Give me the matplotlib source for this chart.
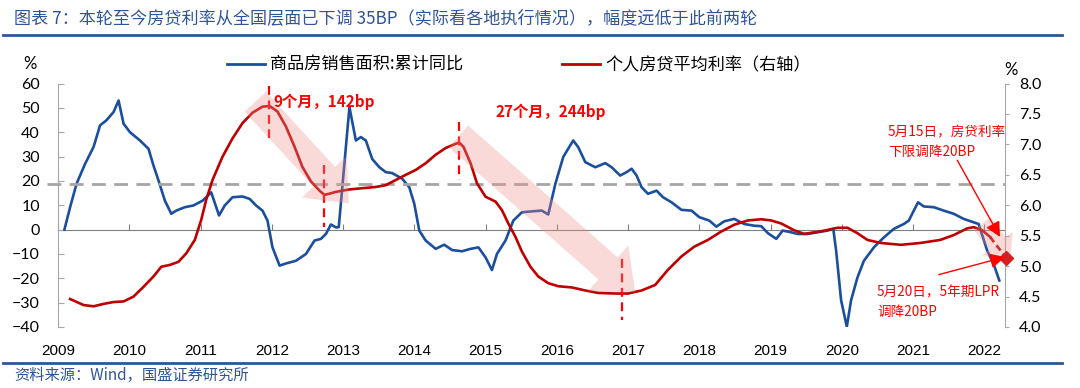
import matplotlib
matplotlib.use("Agg")
import matplotlib.pyplot as plt
from matplotlib.lines import Line2D
from matplotlib.patches import FancyArrowPatch

plt.rcParams['font.family'] = ['Noto Sans CJK SC', 'DejaVu Sans']

# ---------------- data ----------------
sales_x = [2009.09, 2009.17, 2009.26, 2009.38, 2009.50, 2009.59, 2009.68, 2009.78, 2009.85, 2009.92,
           2010.01, 2010.15, 2010.27, 2010.34, 2010.41, 2010.50, 2010.59, 2010.66, 2010.78, 2010.90,
           2011.03, 2011.15, 2011.26, 2011.34, 2011.45, 2011.59, 2011.69, 2011.78, 2011.87, 2011.94,
           2012.01, 2012.11, 2012.20, 2012.34, 2012.48, 2012.60, 2012.69, 2012.76, 2012.83, 2012.90,
           2012.94, 2013.09, 2013.18, 2013.25, 2013.32, 2013.41, 2013.51, 2013.60, 2013.69, 2013.83,
           2013.93, 2014.00, 2014.07, 2014.16, 2014.30, 2014.42, 2014.53, 2014.67, 2014.79, 2014.90,
           2015.00, 2015.09, 2015.16, 2015.28, 2015.39, 2015.51, 2015.65, 2015.79, 2015.88, 2015.98,
           2016.09, 2016.23, 2016.30, 2016.40, 2016.54, 2016.68, 2016.77, 2016.89, 2016.98, 2017.05,
           2017.12, 2017.19, 2017.28, 2017.40, 2017.49, 2017.61, 2017.75, 2017.89, 2018.00, 2018.14,
           2018.24, 2018.35, 2018.49, 2018.63, 2018.77, 2018.87, 2018.96, 2019.08, 2019.17, 2019.29,
           2019.38, 2019.52, 2019.66, 2019.80, 2019.88, 2019.92, 2019.99, 2020.07, 2020.13, 2020.22,
           2020.31, 2020.45, 2020.59, 2020.73, 2020.87, 2020.94, 2021.01, 2021.07, 2021.15, 2021.29,
           2021.43, 2021.57, 2021.71, 2021.85, 2021.92, 2022.04, 2022.13, 2022.21]
sales_yoy = [0.0, 9.2, 18.8, 27.0, 34.0, 42.8, 44.9, 48.3, 53.0, 43.5,
             40.0, 36.6, 33.2, 26.3, 20.2, 11.9, 6.5, 7.8, 9.2, 9.9,
             11.9, 15.3, 5.8, 9.9, 13.3, 13.6, 12.6, 9.9, 7.8, 3.7,
             -7.3, -14.8, -13.9, -12.8, -10.0, -4.5, -3.8, -1.8, 2.1, 0.9,
             1.0, 50.3, 36.6, 38.0, 36.6, 29.0, 25.6, 23.6, 23.2, 20.9,
             17.4, 10.6, -0.4, -4.5, -7.9, -6.2, -8.4, -8.9, -7.9, -7.3,
             -11.4, -16.6, -10.0, -4.5, 3.7, 7.1, 7.5, 7.8, 6.2, 18.8,
             29.8, 36.6, 33.9, 27.7, 25.6, 27.3, 25.6, 22.2, 23.6, 25.0,
             22.2, 17.4, 14.7, 16.0, 13.3, 11.2, 8.1, 7.8, 5.1, 3.7,
             1.2, 3.4, 4.4, 2.3, 1.6, 1.4, -1.4, -3.8, -0.4, -1.1,
             -1.8, -1.8, -1.1, -0.4, 0.3, -8.6, -29.0, -39.9, -29.0, -19.6,
             -12.8, -7.3, -3.2, 0.3, 2.3, 3.7, 7.8, 11.2, 9.5, 9.2,
             7.8, 6.5, 4.4, 3.0, 2.3, -8.6, -14.1, -20.9]

rate_x = [2009.17, 2009.36, 2009.50, 2009.64, 2009.78, 2009.92, 2010.06, 2010.20, 2010.34, 2010.45,
          2010.57, 2010.69, 2010.80, 2010.92, 2011.01, 2011.08, 2011.17, 2011.31, 2011.45, 2011.59,
          2011.73, 2011.87, 2011.97, 2012.08, 2012.20, 2012.32, 2012.43, 2012.55, 2012.67, 2012.74,
          2012.81, 2012.90, 2013.09, 2013.27, 2013.46, 2013.60, 2013.83, 2014.02, 2014.16, 2014.30,
          2014.44, 2014.56, 2014.63, 2014.69, 2014.79, 2014.88, 2015.00, 2015.14, 2015.23, 2015.32,
          2015.42, 2015.51, 2015.63, 2015.74, 2015.88, 2016.02, 2016.21, 2016.40, 2016.58, 2016.82,
          2017.00, 2017.19, 2017.38, 2017.56, 2017.75, 2017.93, 2018.12, 2018.31, 2018.49, 2018.68,
          2018.87, 2019.01, 2019.15, 2019.33, 2019.47, 2019.70, 2019.94, 2020.08, 2020.22, 2020.36,
          2020.55, 2020.83, 2021.10, 2021.38, 2021.57, 2021.76, 2021.85, 2021.97, 2022.08]
rate_pct = [4.46, 4.36, 4.34, 4.38, 4.41, 4.42, 4.50, 4.66, 4.83, 4.99,
            5.02, 5.07, 5.21, 5.43, 5.76, 6.09, 6.42, 6.80, 7.10, 7.35,
            7.52, 7.62, 7.63, 7.54, 7.29, 6.96, 6.63, 6.39, 6.24, 6.17,
            6.19, 6.22, 6.26, 6.28, 6.30, 6.33, 6.47, 6.58, 6.69, 6.83,
            6.94, 7.00, 7.03, 6.96, 6.69, 6.36, 6.14, 6.06, 5.92, 5.70,
            5.48, 5.24, 4.99, 4.83, 4.72, 4.67, 4.65, 4.60, 4.56, 4.55,
            4.55, 4.60, 4.69, 4.94, 5.16, 5.32, 5.43, 5.57, 5.68, 5.75,
            5.77, 5.75, 5.70, 5.59, 5.53, 5.57, 5.63, 5.63, 5.54, 5.43,
            5.38, 5.35, 5.38, 5.43, 5.51, 5.62, 5.64, 5.59, 5.48]

# projected rate after May 2022 cuts (dashed)
proj_x = [2022.08, 2022.31]
proj_rate = [5.48, 5.13]

ref_level = 6.35                      # grey dashed reference level (right axis)
# red dashed vertical markers: (x, y_top, y_bottom) right-axis units
markers_x = [2011.96, 2012.73, 2014.63, 2016.91]
markers_top = [7.96, 6.66, 7.37, 5.12]
markers_bot = [7.10, 5.64, 6.42, 4.12]
# pink trend arrows: (x0, y0, x1, y1) right-axis units
trend_arrows = [(2011.77, 7.70, 2013.08, 6.03), (2014.62, 7.13, 2017.10, 4.57)]

years = list(range(2009, 2023))
left_ticks = list(range(-40, 61, 10))
right_ticks = [4.0, 4.5, 5.0, 5.5, 6.0, 6.5, 7.0, 7.5, 8.0]

W, H = 1080, 388
def fx(p): return p / W
def fy(p): return 1 - p / H

BLUE = '#1B4F9E'
RED = '#C00000'
GREY = '#A6A6A6'
TITLE_BLUE = '#2F5597'
NUM_FONT = ['Lato', 'DejaVu Sans']

fig = plt.figure(figsize=(10.8, 3.88), dpi=100)
ax = fig.add_axes([fx(58), fy(327), fx(1005) - fx(58), fy(83.5) - fy(327)])
ax2 = ax.twinx()

ax.set_xlim(2009.05, 2022.29)
ax.set_ylim(-40, 60)
ax2.set_ylim(4, 8)

# series
ax.plot(sales_x, sales_yoy, color=BLUE, lw=1.9, zorder=3, solid_joinstyle='round')
ax2.plot(rate_x, rate_pct, color=RED, lw=1.9, zorder=3, solid_joinstyle='round')
ax2.plot(proj_x, proj_rate, color=RED, lw=1.9, ls=(0, (2.5, 1.5)), zorder=3, clip_on=False)
ax2.plot(proj_x[-1:], proj_rate[-1:], marker='D', ms=7, color='#D42020', zorder=6, clip_on=False)

# reference dashed grey line
ax2.axhline(ref_level, xmin=-0.012, xmax=1, color=GREY, lw=2, ls=(0, (5, 3)), zorder=2, clip_on=False)

# red dashed vertical markers
for xv, yt, yb in zip(markers_x, markers_top, markers_bot):
    ax2.plot([xv, xv], [yt, yb], color='#FF0000', lw=1.6, ls=(0, (4, 2.5)), zorder=4)

# pink trend arrows
for (x0, y0, x1, y1) in trend_arrows:
    ar = FancyArrowPatch((x0, y0), (x1, y1), transform=ax2.transData,
                         arrowstyle='simple,head_length=26,head_width=44,tail_width=21',
                         mutation_scale=1, shrinkA=0, shrinkB=0,
                         facecolor='#F08C8C', edgecolor='none', alpha=0.33, zorder=5)
    ax2.add_patch(ar)
ar = FancyArrowPatch((2021.97, 5.70), (2022.36, 5.10), transform=ax2.transData,
                     arrowstyle='simple,head_length=15,head_width=28,tail_width=15',
                     mutation_scale=1, shrinkA=0, shrinkB=0,
                     facecolor='#F08C8C', edgecolor='none', alpha=0.33, zorder=5, clip_on=False)
ax2.add_patch(ar)

# annotation arrows (thin red)
for (xs, ys, xe, ye) in [(2021.62, 6.74, 2022.22, 5.48), (2021.36, 4.86, 2022.29, 5.15)]:
    ax2.annotate('', xy=(xe, ye), xytext=(xs, ys),
                 arrowprops=dict(arrowstyle='-|>,head_length=0.9,head_width=0.45', color='#FF0000',
                                 lw=1.0, shrinkA=0, shrinkB=0), zorder=7, annotation_clip=False)

# axes styling
for s in ['top', 'bottom', 'right']:
    ax.spines[s].set_visible(False)
for s in ['top', 'bottom', 'left']:
    ax2.spines[s].set_visible(False)
ax.spines['left'].set_color(GREY)
ax2.spines['right'].set_color(GREY)

ax.set_yticks(left_ticks)
ax.tick_params(axis='y', direction='in', length=4, color=GREY, pad=13, labelsize=11.5)
ax2.set_yticks(right_ticks)
ax2.set_yticklabels([f'{v:.1f}' for v in right_ticks])
ax2.tick_params(axis='y', direction='out', length=3, color=GREY, pad=7, labelsize=11.5)
for lab in ax.get_yticklabels() + ax2.get_yticklabels():
    lab.set_family(NUM_FONT)

ax.set_xticks(years)
ax.set_xticklabels([str(y) for y in years])
ax.tick_params(axis='x', length=0, pad=12, labelsize=11)
for lab in ax.get_xticklabels():
    lab.set_family(['Liberation Sans Narrow', 'Liberation Sans', 'DejaVu Sans'])

# zero axis line with upward ticks
sec = ax.secondary_xaxis(0.4)
sec.set_xticks(years)
sec.tick_params(axis='x', which='both', bottom=True, top=False, direction='in', length=4,
                color='#808080', labelbottom=False, labeltop=False)
for s in sec.spines.values():
    s.set_color('#808080')
    s.set_linewidth(0.8)

# legend
h1 = Line2D([], [], color=BLUE, lw=2)
h2 = Line2D([], [], color=RED, lw=2)
fig.legend([h1, h2], ['商品房销售面积:累计同比', '个人房贷平均利率（右轴）'],
           loc='center left', bbox_to_anchor=(fx(212), fy(65)), ncol=2, frameon=False,
           fontsize=12.3, handlelength=2.2, handletextpad=0.3, columnspacing=5.8)

# axis unit labels
fig.text(fx(30), fy(64), '%', fontsize=12, ha='center', va='center', family=NUM_FONT)
fig.text(fx(1011), fy(70), '%', fontsize=12, ha='center', va='center', family=NUM_FONT)

# red annotation texts
fig.text(fx(273), fy(102), '9个月，142bp', color='#FF0000', fontsize=11, fontweight='bold',
         ha='left', va='center')
fig.text(fx(495), fy(112), '27个月，244bp', color='#FF0000', fontsize=11, fontweight='bold',
         ha='left', va='center')
fig.text(fx(888), fy(142), '5月15日，房贷利率\n下限调降20BP', color='#FF0000', fontsize=9.8,
         ha='left', va='center', linespacing=1.45)
fig.text(fx(877), fy(302), '5月20日，5年期LPR\n调降20BP', color='#FF0000', fontsize=9.8,
         ha='left', va='center', linespacing=1.45)

# title and source
fig.text(fx(14), fy(18), '图表 7：本轮至今房贷利率从全国层面已下调 35BP（实际看各地执行情况），幅度远低于此前两轮',
         color=TITLE_BLUE, fontsize=12.3, style='italic', ha='left', va='center')
fig.add_artist(Line2D([fx(3), fx(1062)], [fy(35), fy(35)], color=TITLE_BLUE, lw=2))
fig.add_artist(Line2D([fx(3), fx(1062)], [fy(363), fy(363)], color=TITLE_BLUE, lw=2))
fig.text(fx(14), fy(375), '资料来源：Wind，国盛证券研究所', color=TITLE_BLUE, fontsize=11,
         style='italic', ha='left', va='center')

fig.savefig('out.png', dpi=100)
